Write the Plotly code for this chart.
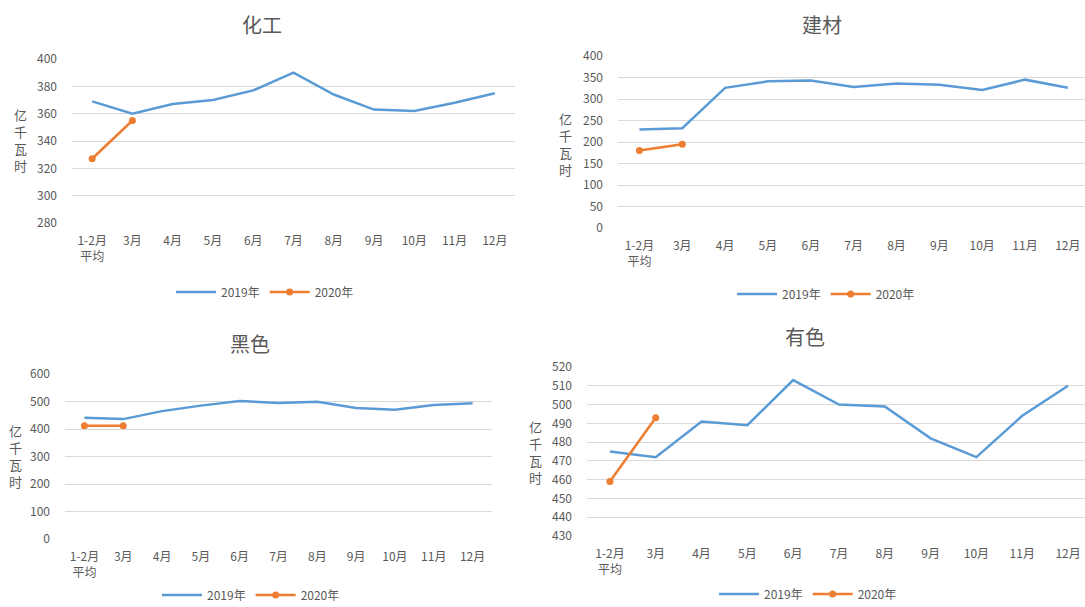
import plotly.graph_objects as go

months = ["1-2月平均", "3月", "4月", "5月", "6月", "7月", "8月", "9月", "10月", "11月", "12月"]
tick_text = ["1-2月<br>平均", "3月", "4月", "5月", "6月", "7月", "8月", "9月", "10月", "11月", "12月"]

titles = ["化工", "建材", "黑色", "有色"]

chem_2019 = [369, 360, 367, 370, 377, 390, 374, 363, 362, 368, 375]
chem_2020 = [327, 355]
build_2019 = [229, 232, 326, 341, 343, 328, 336, 333, 321, 345, 326]
build_2020 = [180, 195]
ferrous_2019 = [441, 436, 465, 485, 502, 495, 499, 476, 470, 487, 494]
ferrous_2020 = [412, 412]
nonfer_2019 = [475, 472, 491, 489, 513, 500, 499, 482, 472, 494, 510]
nonfer_2020 = [459, 493]

y_ranges = [(280, 400, 20), (0, 400, 50), (0, 600, 100), (430, 520, 10)]

W, H = 1085, 607
def py(p):
    return 1 - p / H

# layout specs in pixels
panels = [
    dict(x0=72, x1=515, ytop=59, ybot=223, xr=10.5,
         title=(262, 25), ytitle=(20, 140), legend=(265, 292)),
    dict(x0=618, x1=1085, ytop=56, ybot=228, xr=10.4,
         title=(822, 25), ytitle=(565, 144), legend=(826, 294)),
    dict(x0=65, x1=492, ytop=374, ybot=539, xr=10.5,
         title=(250, 343), ytitle=(15, 456), legend=(251, 595)),
    dict(x0=587, x1=1085, ytop=367, ybot=536, xr=10.37,
         title=(805, 336), ytitle=(535, 452), legend=(808, 594)),
]

series = [(chem_2019, chem_2020), (build_2019, build_2020),
          (ferrous_2019, ferrous_2020), (nonfer_2019, nonfer_2020)]

BLUE = "#5B9BD5"
ORANGE = "#ED7D31"
GRAY = "#595959"
FONT = "Noto Sans CJK SC"

fig = go.Figure()
annotations = []
for i, (p, (s19, s20), (ymin, ymax, dt)) in enumerate(zip(panels, series, y_ranges)):
    n = "" if i == 0 else str(i + 1)
    leg = "legend" if i == 0 else f"legend{i+1}"
    fig.add_trace(go.Scatter(x=months, y=s19, mode="lines", name="2019年",
                             line=dict(color=BLUE, width=2.5),
                             xaxis=f"x{n}", yaxis=f"y{n}", legend=leg))
    fig.add_trace(go.Scatter(x=months[:len(s20)], y=s20, mode="lines+markers", name="2020年",
                             line=dict(color=ORANGE, width=2.5),
                             marker=dict(color=ORANGE, size=7),
                             xaxis=f"x{n}", yaxis=f"y{n}", legend=leg))
    fig.update_layout(**{
        f"xaxis{n}": dict(domain=[p["x0"] / W, min(p["x1"] / W, 1.0)], anchor=f"y{n}",
                          type="category", range=[-0.5, p["xr"]],
                          tickvals=months, ticktext=tick_text,
                          showgrid=False, zeroline=False, showline=False,
                          ticks="", ticklabelstandoff=9,
                          tickfont=dict(family=FONT, size=12, color=GRAY)),
        f"yaxis{n}": dict(domain=[py(p["ybot"]), py(p["ytop"])], anchor=f"x{n}",
                          range=[ymin, ymax], dtick=dt, tick0=ymin,
                          showgrid=True, gridcolor="#D9D9D9", gridwidth=1,
                          zeroline=False, showline=False, ticks="",
                          ticklabelstandoff=14,
                          tickfont=dict(family=FONT, size=12, color=GRAY)),
        leg: dict(orientation="h", x=p["legend"][0] / W, y=py(p["legend"][1]),
                  xanchor="center", yanchor="middle",
                  font=dict(family=FONT, size=12, color=GRAY),
                  bgcolor="rgba(0,0,0,0)", itemwidth=40),
    })
    annotations.append(dict(text=titles[i], x=p["title"][0] / W, y=py(p["title"][1]),
                            xref="paper", yref="paper", showarrow=False,
                            xanchor="center", yanchor="middle",
                            font=dict(family=FONT, size=20, color=GRAY)))
    annotations.append(dict(text="亿<br>千<br>瓦<br>时", x=p["ytitle"][0] / W, y=py(p["ytitle"][1]),
                            xref="paper", yref="paper", showarrow=False,
                            xanchor="center", yanchor="middle",
                            font=dict(family=FONT, size=13, color=GRAY)))

fig.update_layout(width=W, height=H,
                  margin=dict(l=0, r=0, t=0, b=0, autoexpand=False),
                  paper_bgcolor="white", plot_bgcolor="white",
                  annotations=annotations, showlegend=True)

fig.write_html("out.html")
